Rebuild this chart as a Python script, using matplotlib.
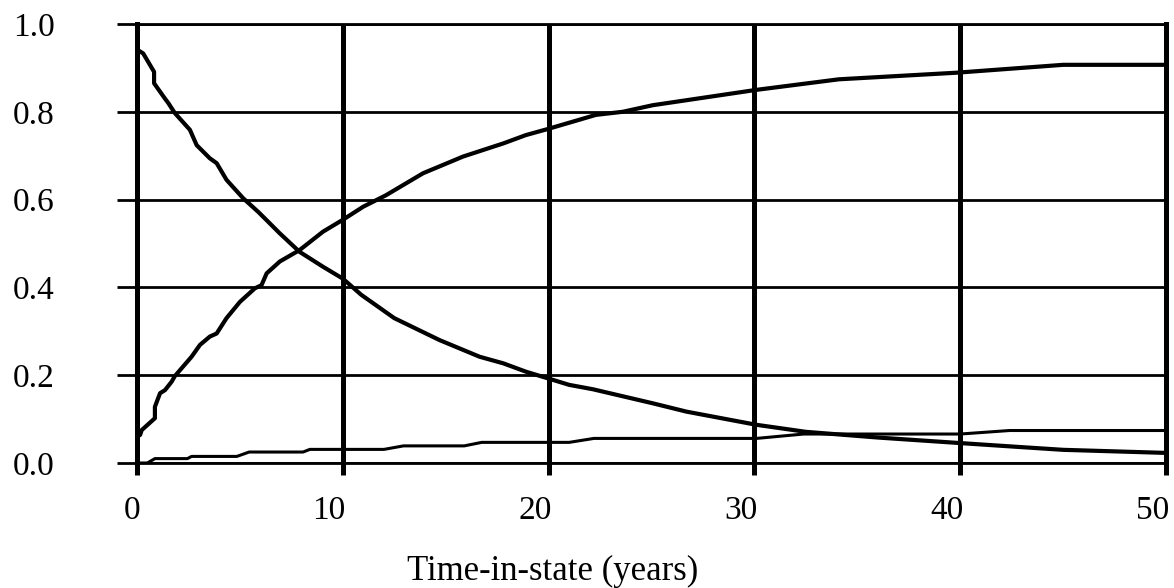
import numpy as np
import matplotlib
matplotlib.use("Agg")
import matplotlib.pyplot as plt
import matplotlib.transforms as mtransforms

plt.rcParams['font.family'] = ['Liberation Serif', 'DejaVu Serif']

# decreasing curve
x_a = [0.0, 0.06, 0.3, 0.83, 0.83, 1.36, 1.52, 1.84, 2.57, 2.9, 3.54, 3.87, 4.35, 5.16,
       5.89, 6.3, 6.94, 7.9, 9.04, 10.0, 10.9, 12.5, 14.7, 16.65, 17.8, 18.9, 21.0, 22.15,
       25.06, 26.7, 30.1, 32.5, 36.0, 39.8, 42.7, 45.0, 50.0]
y_a = [0.94, 0.94, 0.933, 0.891, 0.865, 0.83, 0.82, 0.797, 0.759, 0.724, 0.694, 0.683, 0.645, 0.603,
       0.572, 0.553, 0.523, 0.481, 0.447, 0.42, 0.383, 0.33, 0.28, 0.242, 0.227, 0.208, 0.178, 0.168,
       0.136, 0.117, 0.087, 0.071, 0.058, 0.046, 0.037, 0.030, 0.023]

# increasing curve
x_b = [0.0, 0.15, 0.23, 0.87, 0.87, 1.12, 1.36, 1.68, 1.84, 2.65, 3.06, 3.54, 3.87, 4.35, 5.0,
       5.73, 6.05, 6.3, 6.94, 7.9, 9.04, 10.0, 11.0, 12.1, 13.9, 15.84, 17.8, 18.9, 19.9, 22.3,
       23.6, 25.06, 30.1, 34.1, 39.8, 45.0, 50.0]
y_b = [0.06, 0.064, 0.075, 0.102, 0.128, 0.159, 0.166, 0.185, 0.198, 0.242, 0.269, 0.288, 0.295, 0.33, 0.367,
       0.398, 0.405, 0.432, 0.459, 0.485, 0.527, 0.554, 0.584, 0.610, 0.66, 0.698, 0.728, 0.747, 0.76, 0.793,
       0.80, 0.815, 0.85, 0.874, 0.889, 0.907, 0.907]

# bottom stepped curve
x_c = [0.0, 0.5, 0.87, 2.45, 2.65, 4.85, 5.45, 8.07, 8.4, 12.0, 12.95, 15.9, 16.75, 21.0, 22.2,
       30.1, 32.4, 40.0, 42.4, 50.0]
y_c = [0.0, 0.0, 0.010, 0.010, 0.015, 0.015, 0.025, 0.025, 0.031, 0.031, 0.039, 0.039, 0.047, 0.047, 0.056,
       0.056, 0.066, 0.066, 0.074, 0.074]

xticks = [0, 10, 20, 30, 40, 50]
yticks = [0.0, 0.2, 0.4, 0.6, 0.8, 1.0]

fig = plt.figure(figsize=(11.74, 5.88), dpi=100)
ax = fig.add_axes([137/1174, 1 - 463/588, (1166 - 137)/1174, (463 - 24)/588])

ax.plot(x_a, y_a, color='black', lw=3.0, solid_joinstyle='round', zorder=3)
ax.plot(x_b, y_b, color='black', lw=3.0, solid_joinstyle='round', zorder=3)
ax.plot(x_c, y_c, color='black', lw=2.2, solid_joinstyle='round', zorder=3)

ax.set_xlim(0, 50)
ax.set_ylim(0, 1.0)
ax.set_xticks(xticks)
ax.set_yticks(yticks)
ax.set_xticklabels([str(t) for t in xticks])
ax.set_yticklabels([f"{t:.1f}" for t in yticks])

ax.xaxis.grid(True, color='black', lw=3.6)
ax.yaxis.grid(True, color='black', lw=2.0)
ax.set_axisbelow(True)

ax.spines['left'].set_linewidth(3.6)
ax.spines['right'].set_linewidth(3.6)
ax.spines['top'].set_linewidth(2.0)
ax.spines['bottom'].set_linewidth(2.0)

ax.tick_params(axis='x', direction='out', length=8.5, width=3.6, pad=15, labelsize=24)
ax.tick_params(axis='y', direction='out', length=14.4, width=2.0, pad=45, labelsize=24)

# x labels sit right-aligned just past their gridline
shift = mtransforms.ScaledTranslation(3/100, 0, fig.dpi_scale_trans)
for lab in ax.get_xticklabels():
    lab.set_horizontalalignment('right')
    lab.set_transform(lab.get_transform() + shift)

fig.text(553/1174, 1 - 580/588, "Time-in-state (years)", ha='center', va='baseline', fontsize=25)

fig.savefig("out.png", dpi=100)
